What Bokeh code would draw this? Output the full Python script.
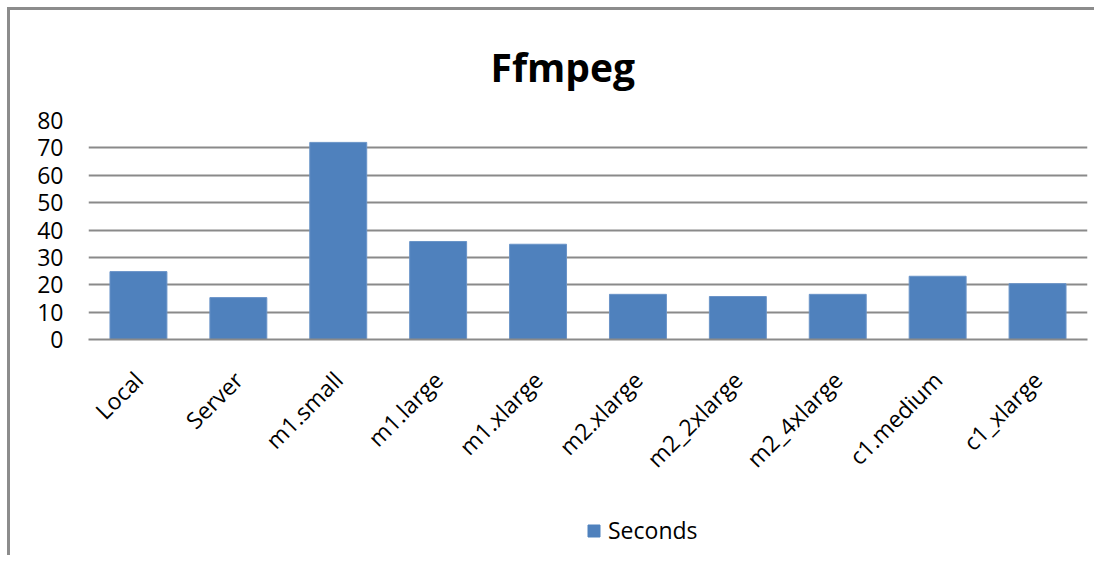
import math
from bokeh.plotting import figure
from bokeh.layouts import column
from bokeh.models import (ColumnDataSource, FactorRange, Range1d, FixedTicker,
                          Legend, LegendItem)
from bokeh.embed import file_html
from bokeh.resources import INLINE

categories = ["Local", "Server", "m1.small", "m1.large", "m1.xlarge",
              "m2.xlarge", "m2_2xlarge", "m2_4xlarge", "c1.medium", "c1_xlarge"]
seconds = [24.8, 15.3, 72.0, 35.8, 34.8, 16.5, 15.7, 16.5, 23.1, 20.4]
y_ticks = [0, 10, 20, 30, 40, 50, 60, 70, 80]
series_name = "Seconds"

FONT = "Open Sans"
GRID = "#8a8a8a"
BAR = "#4F81BD"

src = ColumnDataSource(dict(cat=categories, val=seconds))

p = figure(width=1084, height=499, output_backend="svg", toolbar_location=None,
           x_range=FactorRange(factors=categories, range_padding=0),
           y_range=Range1d(0, 80),
           min_border_left=78, min_border_right=7, min_border_top=110,
           min_border_bottom=170)

p.vbar(x="cat", top="val", width=0.57, source=src, fill_color=BAR,
       line_color="#6a94c8", line_width=1)

p.title.text = "Ffmpeg"
p.title.text_font = FONT
p.title.text_font_size = "39px"
p.title.text_font_style = "bold"
p.title.align = "left"
p.title.offset = 402
p.title.standoff = 55
p.title.text_color = "#000000"

p.outline_line_color = None
p.background_fill_color = "white"
p.border_fill_color = "white"

p.xgrid.grid_line_color = None
p.ygrid.grid_line_color = GRID
p.ygrid.grid_line_width = 2
p.yaxis.ticker = FixedTicker(ticks=y_ticks)

for ax in (p.xaxis[0], p.yaxis[0]):
    ax.major_tick_line_color = None
    ax.minor_tick_line_color = None
    ax.major_label_text_font = FONT
    ax.major_label_text_font_size = "23px"
    ax.major_label_text_color = "#000000"

p.yaxis.axis_line_color = None
p.yaxis.major_label_standoff = 19
p.xaxis.axis_line_color = GRID
p.xaxis.axis_line_width = 2
p.xaxis.major_label_orientation = math.pi / 4
p.xaxis.major_label_standoff = 30

# legend strip below the chart (bars of this strip fall outside its view)
lf = figure(width=1084, height=46, output_backend="svg", toolbar_location=None,
            x_range=FactorRange(factors=categories, range_padding=0),
            y_range=Range1d(1000, 1001), min_border=0,
            x_axis_location=None, y_axis_location=None)
lf.grid.visible = False
lf.outline_line_color = None
lf.background_fill_color = "white"
lf.border_fill_color = "white"
key = lf.vbar(x="cat", top="val", width=0.57, source=src,
              fill_color=BAR, line_color=BAR)

legend = Legend(items=[LegendItem(label=series_name, renderers=[key])],
                location=(498, 9), orientation="horizontal",
                label_text_font=FONT, label_text_font_size="23px",
                label_text_color="#000000",
                glyph_width=15, glyph_height=15, label_standoff=7,
                border_line_color=None, background_fill_alpha=0,
                padding=4, margin=0)
lf.add_layout(legend, "center")

lay = column(p, lf, spacing=0)
lay.styles = {"border-left": "3px solid #8c8c8c", "border-top": "3px solid #8c8c8c",
              "position": "relative", "left": "7px", "top": "7px"}

open("out.html", "w").write(file_html(lay, INLINE))
